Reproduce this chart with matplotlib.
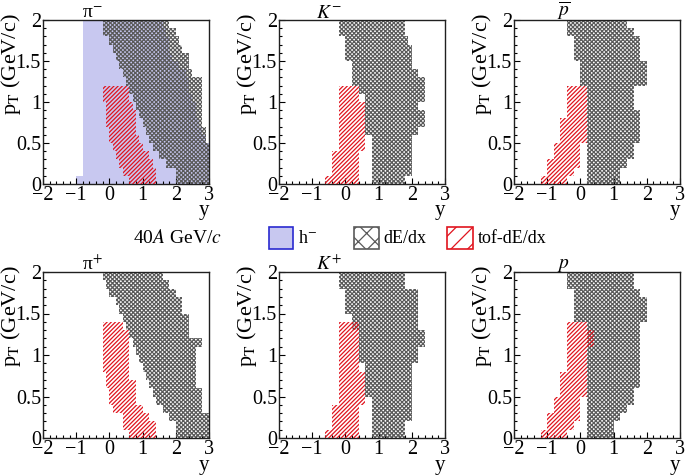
import numpy as np
import matplotlib.pyplot as plt
from matplotlib.patches import Rectangle

plt.rcParams['font.family'] = ['Liberation Serif', 'DejaVu Serif']
plt.rcParams['mathtext.fontset'] = 'stix'
plt.rcParams['hatch.linewidth'] = 0.9

# pT bin edges (GeV/c), bins of 0.1 starting at 0
pt_step = 0.1

# pi- : h- (blue), dE/dx (crosshatch), tof-dE/dx (red); lists run from pT=0 upward
pim_h_lo = [-1.0, -0.8, -0.8, -0.8, -0.8, -0.8, -0.8, -0.8, -0.8, -0.8,
            -0.8, -0.8, -0.8, -0.8, -0.8, -0.8, -0.8, -0.8, -0.8, -0.8]
pim_h_hi = [3.0, 3.0, 3.0, 3.0, 3.0, 2.9, 2.8, 2.7, 2.6, 2.6,
            2.5, 2.4, 2.4, 2.3, 2.1, 1.9, 1.8, 1.8, 1.7, 1.6]
pim_dedx_lo = [2.0, 2.0, 1.7, 1.5, 1.3, 1.2, 1.1, 1.0, 0.9, 0.8,
               0.7, 0.6, 0.5, 0.4, 0.3, 0.2, 0.1, 0.0, -0.2, -0.2]
pim_dedx_hi = [3.0, 3.0, 3.0, 3.0, 3.0, 2.9, 2.9, 2.8, 2.8, 2.8,
               2.8, 2.8, 2.8, 2.5, 2.4, 2.4, 2.2, 2.1, 2.0, 1.8]
pim_tof_lo = [0.6, 0.4, 0.3, 0.2, 0.1, 0.0, 0.0, -0.1, -0.1, -0.1, -0.2, -0.2]
pim_tof_hi = [1.4, 1.4, 1.3, 1.2, 1.0, 0.9, 0.8, 0.8, 0.8, 0.7, 0.6, 0.6]

# K-
km_dedx_lo = [0.8, 0.8, 0.8, 0.8, 0.8, 0.8, 0.6, 0.6, 0.6, 0.6,
              0.6, 0.4, 0.2, 0.2, 0.2, 0.0, 0.0, 0.0, -0.2, -0.2]
km_dedx_hi = [1.8, 2.0, 2.0, 2.0, 2.0, 2.0, 2.2, 2.4, 2.4, 2.2,
              2.4, 2.4, 2.4, 2.2, 2.0, 2.0, 2.0, 1.9, 1.8, 1.8]
km_tof_lo = [-0.6, -0.4, -0.4, -0.4, -0.2, -0.2, -0.2, -0.2, -0.2, -0.2, -0.2, -0.2]
km_tof_hi = [0.4, 0.4, 0.4, 0.4, 0.6, 0.6, 0.6, 0.6, 0.6, 0.6, 0.4, 0.4]

# anti-proton
pbar_dedx_lo = [0.2, 0.2, 0.2, 0.2, 0.2, 0.2, 0.2, 0.2, 0.2, 0.2,
                0.2, 0.2, 0.0, 0.0, 0.0, -0.2, -0.2, -0.2, -0.4, -0.4]
pbar_dedx_hi = [1.2, 1.2, 1.4, 1.6, 1.6, 1.8, 1.8, 1.8, 1.8, 1.6,
                1.6, 1.6, 2.0, 2.0, 2.0, 1.8, 1.8, 1.8, 1.6, 1.4]
pbar_tof_lo = [-1.2, -1.0, -1.0, -0.8, -0.8, -0.6, -0.6, -0.6, -0.4, -0.4, -0.4, -0.4]
pbar_tof_hi = [-0.4, -0.2, 0.0, 0.0, 0.0, 0.2, 0.2, 0.2, 0.2, 0.2, 0.2, 0.2]

# pi+
pip_dedx_lo = [2.0, 2.0, 1.8, 1.6, 1.4, 1.3, 1.2, 1.1, 1.0, 0.9,
               0.8, 0.7, 0.6, 0.5, 0.4, 0.3, 0.2, 0.0, -0.1, -0.2]
pip_dedx_hi = [3.0, 3.0, 3.0, 2.8, 2.8, 2.8, 2.6, 2.6, 2.6, 2.6,
               2.6, 2.8, 2.4, 2.4, 2.4, 2.2, 2.2, 2.0, 1.8, 1.6]
pip_tof_lo = [0.6, 0.4, 0.4, 0.1, 0.0, 0.0, -0.1, -0.1, -0.2, -0.2, -0.2, -0.2, -0.2, -0.2]
pip_tof_hi = [1.4, 1.4, 1.2, 1.0, 0.8, 0.8, 0.8, 0.6, 0.6, 0.6, 0.6, 0.6, 0.6, 0.4]

# K+
kp_dedx_lo = [0.8, 0.8, 0.8, 0.8, 0.8, 0.6, 0.6, 0.6, 0.6, 0.4,
              0.4, 0.4, 0.4, 0.2, 0.2, 0.0, 0.0, 0.0, -0.2, -0.2]
kp_dedx_hi = [1.8, 1.8, 2.0, 2.0, 2.0, 2.0, 2.0, 2.0, 2.0, 2.2,
              2.2, 2.4, 2.4, 2.2, 2.2, 2.2, 2.2, 2.2, 1.8, 1.8]
kp_tof_lo = [-0.6, -0.4, -0.4, -0.4, -0.2, -0.2, -0.2, -0.2, -0.2, -0.2, -0.2, -0.2, -0.2, -0.2]
kp_tof_hi = [0.4, 0.4, 0.4, 0.4, 0.6, 0.6, 0.6, 0.6, 0.4, 0.4, 0.4, 0.4, 0.4, 0.4]

# proton
p_dedx_lo = [0.2, 0.2, 0.2, 0.2, 0.2, 0.2, 0.2, 0.2, 0.2, 0.2,
             0.2, 0.2, 0.2, 0.2, -0.2, -0.2, -0.2, -0.2, -0.4, -0.4]
p_dedx_hi = [1.0, 1.0, 1.2, 1.4, 1.6, 1.6, 1.8, 1.8, 1.8, 1.8,
             1.8, 1.8, 1.8, 1.8, 2.0, 2.0, 2.0, 1.8, 1.6, 1.6]
p_tof_lo = [-1.2, -1.0, -1.0, -0.8, -0.8, -0.6, -0.6, -0.6, -0.4, -0.4, -0.4, -0.4, -0.4, -0.4]
p_tof_hi = [-0.4, -0.2, 0.0, 0.0, 0.0, 0.2, 0.2, 0.2, 0.2, 0.2, 0.2, 0.4, 0.4, 0.2]

titles = ['π$^{-}$', r'$K^{-}$', r'$\overline{p}$', 'π$^{+}$', r'$K^{+}$', r'$p$']

blue_face = '#c8c8f0'
blue_edge = '#2a2ad0'
gray = '#5a5a5a'
red = '#e0141e'


def region(ax, lo, hi, **kw):
    n = len(lo)
    edges = np.arange(n + 1) * pt_step
    ax.fill_betweenx(edges, list(lo) + [lo[-1]], list(hi) + [hi[-1]],
                     step='post', linewidth=0, **kw)


fig = plt.figure(figsize=(6.85, 4.75), dpi=100)
W, H = 685.0, 475.0
col_left = [43, 279, 514]
row_top = [20, 272]
row_bot = [184, 438]

panels = [
    (pim_dedx_lo, pim_dedx_hi, pim_tof_lo, pim_tof_hi),
    (km_dedx_lo, km_dedx_hi, km_tof_lo, km_tof_hi),
    (pbar_dedx_lo, pbar_dedx_hi, pbar_tof_lo, pbar_tof_hi),
    (pip_dedx_lo, pip_dedx_hi, pip_tof_lo, pip_tof_hi),
    (kp_dedx_lo, kp_dedx_hi, kp_tof_lo, kp_tof_hi),
    (p_dedx_lo, p_dedx_hi, p_tof_lo, p_tof_hi),
]

for i, (d_lo, d_hi, t_lo, t_hi) in enumerate(panels):
    r, c = divmod(i, 3)
    ax = fig.add_axes([col_left[c] / W, 1 - row_bot[r] / H, 166 / W,
                       (row_bot[r] - row_top[r]) / H])
    if i == 0:
        region(ax, pim_h_lo, pim_h_hi, facecolor=blue_face, zorder=1)
    region(ax, d_lo, d_hi, facecolor='none', edgecolor=gray, hatch='xxxxxxxx', zorder=2)
    region(ax, t_lo, t_hi, facecolor='none', edgecolor=red, hatch='////////', zorder=3)

    ax.set_xlim(-2, 3)
    ax.set_ylim(0, 2)
    ax.set_xticks([-2, -1, 0, 1, 2, 3])
    ax.set_xticks(np.arange(-2, 3.01, 0.2), minor=True)
    ax.set_yticks([0, 0.5, 1, 1.5, 2])
    ax.set_yticklabels(['0', '0.5', '1', '1.5', '2'])
    ax.set_yticks(np.arange(0, 2.01, 0.1), minor=True)
    ax.tick_params(which='both', direction='in', top=False, right=False,
                   labelsize=14.5, width=0.8, pad=1.5)
    ax.tick_params(which='major', length=4)
    ax.tick_params(which='minor', length=2)
    for s in ax.spines.values():
        s.set_linewidth(1.0)
        s.set_color('#202020')
    ax.text(0.3, 0.99, titles[i], transform=ax.transAxes, ha='center',
            va='bottom', fontsize=14)
    ax.text(-0.19, 1.04, r'p$_{\mathrm{T}}$ (GeV/c)', transform=ax.transAxes,
            rotation=90, ha='center', va='top', fontsize=16)
    ax.text(1.0, -0.19, 'y', transform=ax.transAxes, ha='right',
            va='baseline', fontsize=15)

# legend row
ly = 1 - 238 / H
fig.text(133 / W, ly, r'40$A$ GeV/$c$', ha='left', va='center', fontsize=14)
box_h = 22 / H
fig.add_artist(Rectangle((269 / W, 1 - 249 / H), 24 / W, box_h,
                         transform=fig.transFigure, facecolor=blue_face,
                         edgecolor=blue_edge, linewidth=1.2))
fig.text(298 / W, ly, r'h$^{-}$', ha='left', va='center', fontsize=13)
fig.add_artist(Rectangle((354 / W, 1 - 249 / H), 25 / W, box_h,
                         transform=fig.transFigure, facecolor='white',
                         edgecolor=gray, hatch='xx', linewidth=1.2))
fig.text(383 / W, ly, 'dE/dx', ha='left', va='center', fontsize=13)
fig.add_artist(Rectangle((447 / W, 1 - 249 / H), 26 / W, box_h,
                         transform=fig.transFigure, facecolor='white',
                         edgecolor=red, hatch='//', linewidth=1.2))
fig.text(478 / W, ly, 'tof-dE/dx', ha='left', va='center', fontsize=13)

fig.savefig('out.png', dpi=100)
